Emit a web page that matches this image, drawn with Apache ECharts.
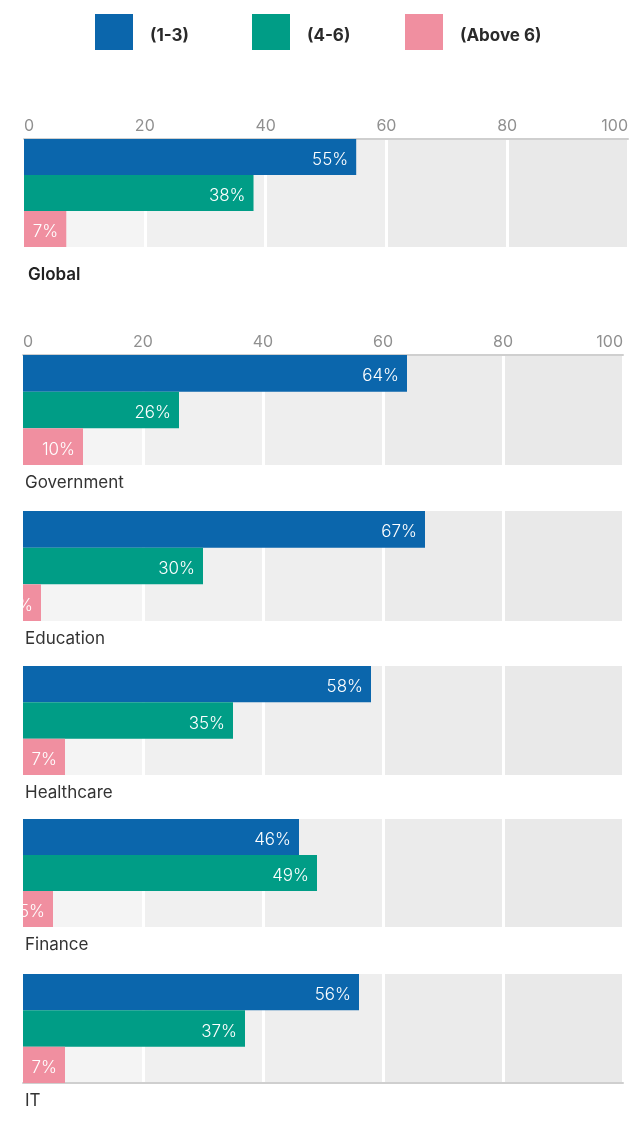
<!DOCTYPE html>
<html>
<head>
<meta charset="utf-8">
<style>
  html, body { margin: 0; padding: 0; background: #ffffff; }
  #chart { width: 634px; height: 1130px; }
</style>
<script src="https://cdn.jsdelivr.net/npm/echarts@6/dist/echarts.min.js"></script>
</head>
<body>
<div id="chart"></div>
<script>
// Number of people per household group, share of respondents (%)
const groupNames = ['(1-3)', '(4-6)', '(Above 6)'];
const panels = ['Global', 'Government', 'Education', 'Healthcare', 'Finance', 'IT'];
const share1to3 = [55, 64, 67, 58, 46, 56];
const share4to6 = [38, 26, 30, 35, 49, 37];
const shareAbove6 = [7, 10, 3, 7, 5, 7];
const axisMin = 0;
const axisMax = 100;
const axisStep = 20;

const seriesValues = [share1to3, share4to6, shareAbove6];
const colors = ['#0b66ac', '#009d86', '#f08fa0'];
const bandColors = ['#f4f4f4', '#f0f0f0', '#eeeeee', '#ebebeb', '#e9e9e9'];
const FONT = 'Inter, "Noto Sans", sans-serif';

// panel geometry: [top, height, left, right]
const layout = [
  [139, 108, 24, 6],
  [355, 110, 23, 11],
  [511, 110, 23, 11],
  [666, 109, 23, 11],
  [819, 108, 23, 11],
  [974, 109, 23, 11]
];

const grids = [], xAxes = [], yAxes = [], series = [], graphics = [];

panels.forEach((name, p) => {
  const [top, height, left, right] = layout[p];
  grids.push({ top, height, left, right, containLabel: false });

  const showLabels = p <= 1;
  const isLast = p === panels.length - 1;
  xAxes.push({
    gridIndex: p,
    type: 'value',
    min: axisMin,
    max: axisMax,
    interval: axisStep,
    position: isLast ? 'bottom' : 'top',
    axisLine: { show: p <= 1 || isLast, lineStyle: { color: '#cfcfcf', width: 2 } },
    axisTick: { show: false },
    axisLabel: {
      show: showLabels,
      color: '#909090',
      fontFamily: FONT,
      fontSize: 16,
      margin: 5,
      alignMinLabel: 'left',
      alignMaxLabel: 'right'
    },
    splitLine: { show: true, lineStyle: { color: '#ffffff', width: 3 } },
    splitArea: { show: true, areaStyle: { color: bandColors } }
  });
  yAxes.push({
    gridIndex: p,
    type: 'category',
    data: [name],
    inverse: true,
    show: false
  });

  groupNames.forEach((g, s) => {
    series.push({
      name: g,
      type: 'bar',
      xAxisIndex: p,
      yAxisIndex: p,
      data: [seriesValues[s][p]],
      barGap: 0,
      barCategoryGap: 0,
      itemStyle: { color: colors[s] },
      label: {
        show: true,
        position: 'insideRight',
        distance: 8,
        offset: [0, 3],
        formatter: '{c}%',
        color: '#ffffff',
        fontFamily: FONT,
        fontSize: 17,
        fontWeight: 300,
        overflow: 'none'
      },
      emphasis: { disabled: true },
      animation: false
    });
  });

  graphics.push({
    type: 'text',
    left: p === 0 ? 28 : 25,
    top: top + height + (p === 0 ? 19 : 9),
    style: {
      text: name,
      font: (p === 0 ? '600 ' : '400 ') + '17px ' + FONT,
      fill: p === 0 ? '#222222' : '#333333'
    }
  });
});

const legendLeft = [95, 252, 405];
const legends = groupNames.map((g, i) => ({
  data: [g],
  left: legendLeft[i],
  top: 14,
  padding: 0,
  icon: 'rect',
  itemWidth: 38,
  itemHeight: 36,
  selectedMode: false,
  formatter: '{t|{name}}',
  textStyle: {
    padding: [0, 0, 0, 12],
    rich: {
      t: {
        color: '#2a2a2a',
        fontFamily: FONT,
        fontSize: 17,
        fontWeight: 700,
        padding: [8, 0, 0, 0]
      }
    }
  }
}));

const chart = echarts.init(document.getElementById('chart'), null, { renderer: 'canvas' });
chart.setOption({
  animation: false,
  color: colors,
  legend: legends,
  grid: grids,
  xAxis: xAxes,
  yAxis: yAxes,
  series: series,
  graphic: graphics
});
</script>
</body>
</html>
